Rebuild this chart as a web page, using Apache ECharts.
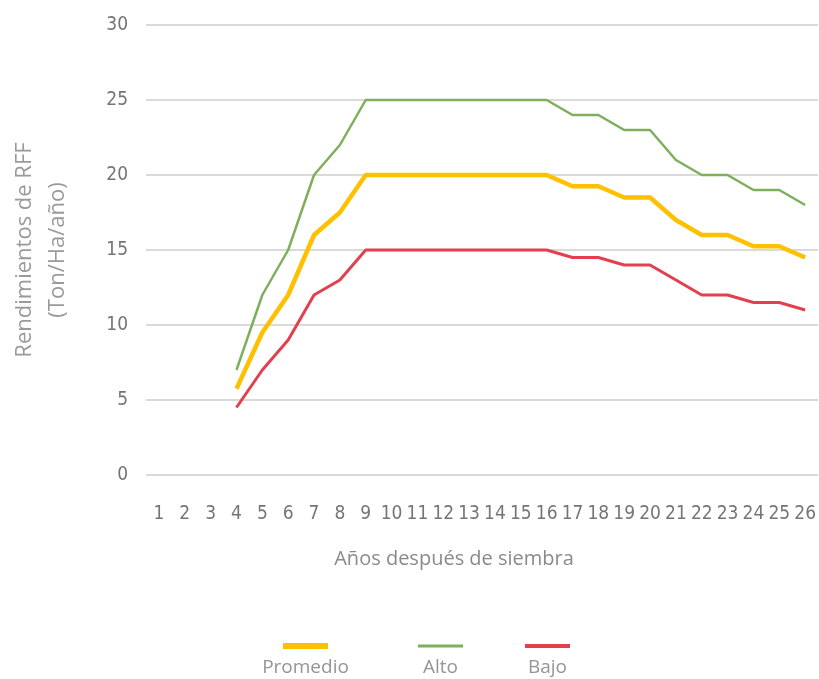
<!DOCTYPE html>
<html>
<head>
<meta charset="utf-8">
<title>Rendimientos de RFF</title>
<script src="https://cdn.jsdelivr.net/npm/echarts@6/dist/echarts.min.js"></script>
<style>
  html, body { margin: 0; padding: 0; background: #ffffff; }
  #chart { width: 819px; height: 679px; }
</style>
</head>
<body>
<div id="chart"></div>
<script>
// Years after planting (x axis categories)
const years = ['1','2','3','4','5','6','7','8','9','10','11','12','13','14','15','16','17','18','19','20','21','22','23','24','25','26'];

// Yield series, Ton/Ha/año (no production in years 1-3)
const promedio = [null, null, null, 5.75, 9.5, 12, 16, 17.5, 20, 20, 20, 20, 20, 20, 20, 20, 19.25, 19.25, 18.5, 18.5, 17, 16, 16, 15.25, 15.25, 14.5];
const alto     = [null, null, null, 7, 12, 15, 20, 22, 25, 25, 25, 25, 25, 25, 25, 25, 24, 24, 23, 23, 21, 20, 20, 19, 19, 18];
const bajo     = [null, null, null, 4.5, 7, 9, 12, 13, 15, 15, 15, 15, 15, 15, 15, 15, 14.5, 14.5, 14, 14, 13, 12, 12, 11.5, 11.5, 11];

// Value axis ticks
const yTicks = { min: 0, max: 30, interval: 5 };

const seriesNames = ['Promedio', 'Alto', 'Bajo'];
const seriesColors = ['#FFC000', '#7DAF5C', '#E2404E'];
const seriesWidths = [4.5, 2.5, 3];
const seriesData = [promedio, alto, bajo];

const narrow = '"Liberation Sans Narrow", "DejaVu Sans Condensed", sans-serif';
const body = '"Open Sans", "Noto Sans", sans-serif';

// Legend swatches, one block per series; the series name sits centred below each swatch
const legendX = [283, 418, 525];
const legendH = [6, 3, 4];
const legendW = 45;
const legends = seriesNames.map((name, i) => ({
  data: [name],
  left: legendX[i],
  top: 646 - legendH[i] / 2,
  padding: 0,
  icon: 'rect',
  itemWidth: legendW,
  itemHeight: legendH[i],
  selectedMode: false,
  formatter: () => '',
  textStyle: { fontSize: 1 }
}));

const legendLabels = seriesNames.map((name, i) => ({
  type: 'text',
  x: legendX[i] + legendW / 2,
  y: 668,
  style: {
    text: name,
    fill: '#959595',
    font: '19px "Open Sans", "Noto Sans", sans-serif',
    textAlign: 'center',
    textVerticalAlign: 'middle'
  }
}));

const chart = echarts.init(document.getElementById('chart'), null, { renderer: 'canvas' });

chart.setOption({
  animation: false,
  backgroundColor: '#ffffff',
  grid: { left: 145, right: 0, top: 25, bottom: 204 },
  legend: legends,
  graphic: legendLabels,
  xAxis: {
    type: 'category',
    data: years,
    boundaryGap: true,
    axisLine: { show: false },
    axisTick: { show: false },
    axisLabel: {
      color: '#757575',
      fontFamily: narrow,
      fontSize: 19,
      margin: 30,
      interval: 0
    },
    name: 'Años después de siembra',
    nameLocation: 'middle',
    nameGap: 74,
    nameTextStyle: {
      color: '#8a8a8a',
      fontFamily: body,
      fontSize: 20,
      padding: [0, 56, 0, 0]
    }
  },
  yAxis: {
    type: 'value',
    min: yTicks.min,
    max: yTicks.max,
    interval: yTicks.interval,
    axisLine: { show: false },
    axisTick: { show: false },
    axisLabel: {
      color: '#757575',
      fontFamily: narrow,
      fontSize: 19,
      margin: 18
    },
    splitLine: { lineStyle: { color: '#dadada', width: 2 } },
    name: 'Rendimientos de RFF\n(Ton/Ha/año)',
    nameLocation: 'middle',
    nameGap: 72,
    nameTextStyle: {
      color: '#9a9a9a',
      fontFamily: body,
      fontSize: 22,
      lineHeight: 33,
      align: 'center'
    }
  },
  series: seriesNames.map((name, i) => ({
    name: name,
    type: 'line',
    data: seriesData[i],
    showSymbol: false,
    symbol: 'none',
    color: seriesColors[i],
    lineStyle: { color: seriesColors[i], width: seriesWidths[i] },
    z: 3 - i
  }))
});
</script>
</body>
</html>
